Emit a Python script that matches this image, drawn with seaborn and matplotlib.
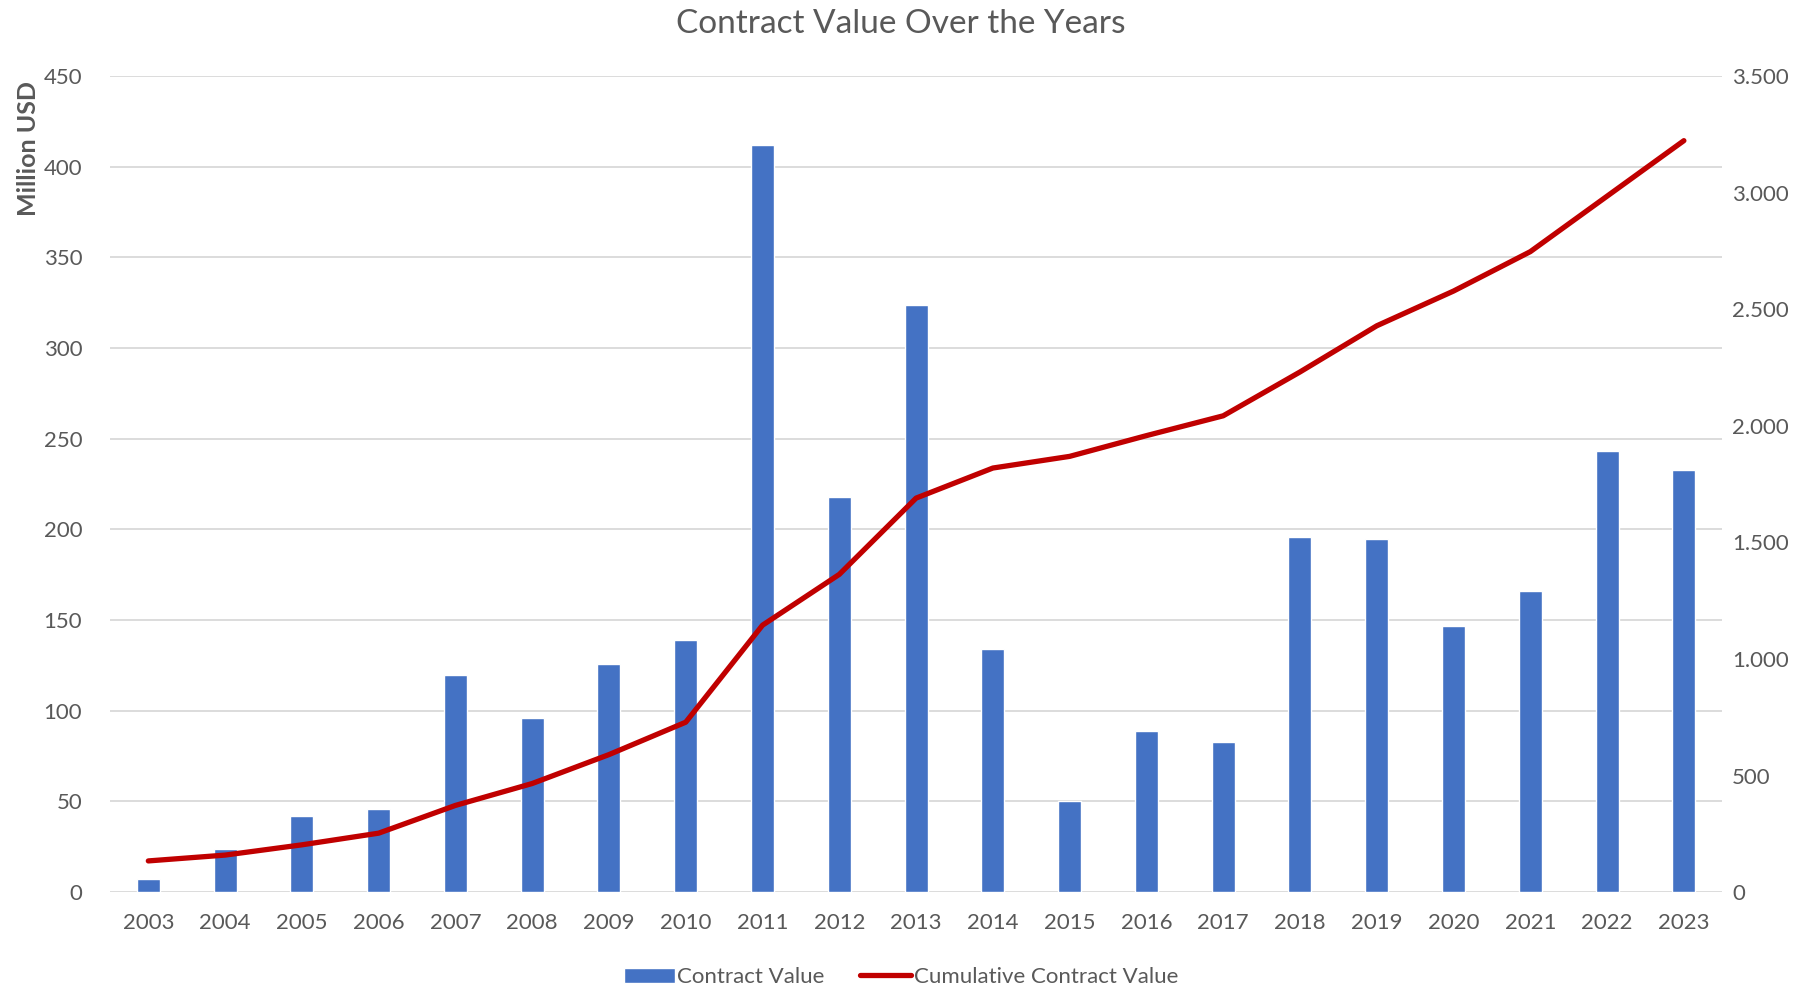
import numpy as np
import pandas as pd
import matplotlib
matplotlib.use("Agg")
import matplotlib.pyplot as plt
import matplotlib.ticker as mticker
from matplotlib.lines import Line2D
from matplotlib.patches import Patch
import seaborn as sns

# Data
years = [2003, 2004, 2005, 2006, 2007, 2008, 2009, 2010, 2011, 2012, 2013,
         2014, 2015, 2016, 2017, 2018, 2019, 2020, 2021, 2022, 2023]
contract_value = [7, 24, 42, 46, 120, 96, 126, 139, 412, 218, 324,
                  134, 50, 89, 83, 196, 195, 147, 166, 243, 233]
cumulative_value = [134, 159, 203, 253, 372, 466, 590, 729, 1145, 1363, 1690,
                    1819, 1869, 1958, 2043, 2231, 2429, 2578, 2747, 2985, 3223]

df = pd.DataFrame({"year": years, "value": contract_value, "cumulative": cumulative_value})

bar_color = "#4472C4"
line_color = "#C00000"
text_color = "#595959"
grid_color = "#D9D9D9"

sns.set_theme(style="white")
plt.rcParams["font.family"] = ["Lato", "DejaVu Sans"]

fig, ax = plt.subplots(figsize=(18.11, 9.88), dpi=100)
fig.subplots_adjust(left=0.0607, right=0.951, top=0.923, bottom=0.097)

sns.barplot(data=df, x="year", y="value", native_scale=True, width=0.3,
            color=bar_color, saturation=1, ax=ax, zorder=2)
ax.set_xlim(2002.5, 2023.5)
ax.set_ylim(0, 450)
ax.set_yticks(np.arange(0, 451, 50))
ax.set_xticks(years)
ax.set_xticklabels([str(y) for y in years])
ax.grid(axis="y", color=grid_color, linewidth=1.3, zorder=0)
ax.set_axisbelow(True)
for s in ax.spines.values():
    s.set_visible(False)
ax.tick_params(axis="y", length=0, pad=20, labelsize=16, labelcolor=text_color)
ax.tick_params(axis="x", length=0, pad=15, labelsize=16, labelcolor=text_color)
ax.set_xlabel("")
ax.set_ylabel("")
fig.text(0.016, 0.85, "Million USD", rotation=90, ha="center", va="center",
         fontsize=18, fontweight="bold", color=text_color)

ax2 = ax.twinx()
sns.lineplot(data=df, x="year", y="cumulative", color=line_color, linewidth=3.8,
             ax=ax2, solid_capstyle="round", zorder=3)
ax2.set_ylim(0, 3500)
ax2.set_yticks(np.arange(0, 3501, 500))
ax2.yaxis.set_major_formatter(mticker.FuncFormatter(lambda v, p: f"{int(v):,}".replace(",", ".")))
for s in ax2.spines.values():
    s.set_visible(False)
ax2.tick_params(axis="y", length=0, pad=7, labelsize=16, labelcolor=text_color)
ax2.set_ylabel("")
ax2.set_xlabel("")

fig.text(0.4975, 0.976, "Contract Value Over the Years", ha="center", va="center",
         fontsize=24, color=text_color)

handles = [Patch(facecolor=bar_color, label="Contract Value"),
           Line2D([0], [0], color=line_color, linewidth=3.8, label="Cumulative Contract Value")]
fig.legend(handles=handles, loc="center", bbox_to_anchor=(0.4975, 0.011), ncol=2,
           frameon=False, fontsize=16, labelcolor=text_color, handlelength=2.3,
           handletextpad=0.1, columnspacing=1.6)

fig.savefig("out.png", dpi=100)
